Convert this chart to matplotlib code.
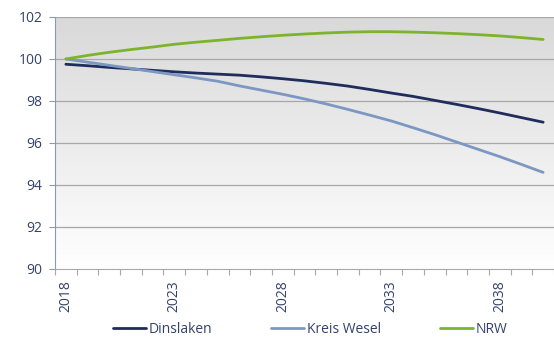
import numpy as np
import matplotlib
matplotlib.use("Agg")
import matplotlib.pyplot as plt

years = list(range(2018, 2041))
dinslaken = [99.75, 99.68, 99.60, 99.53, 99.46, 99.39, 99.33, 99.28, 99.23, 99.15,
             99.06, 98.96, 98.84, 98.71, 98.55, 98.38, 98.22, 98.03, 97.84, 97.64,
             97.43, 97.21, 96.99]
kreis_wesel = [100.0, 99.85, 99.70, 99.55, 99.40, 99.25, 99.10, 98.94, 98.72, 98.52,
               98.32, 98.10, 97.86, 97.60, 97.33, 97.05, 96.73, 96.40, 96.05, 95.70,
               95.35, 94.98, 94.60]
nrw = [100.0, 100.17, 100.32, 100.45, 100.57, 100.70, 100.80, 100.89, 100.98, 101.06,
       101.13, 101.19, 101.24, 101.28, 101.30, 101.30, 101.28, 101.25, 101.21, 101.16,
       101.10, 101.02, 100.93]
series_names = ["Dinslaken", "Kreis Wesel", "NRW"]
colors = ["#1f2d5c", "#7b97c2", "#7db42c"]
yticks = [90, 92, 94, 96, 98, 100, 102]

plt.rcParams['font.family'] = ['Open Sans', 'DejaVu Sans']
txt = "#34426a"

fig = plt.figure(figsize=(5.54, 3.40), dpi=100)
ax = fig.add_axes([55/554, 71/340, 499/554, 252/340])

x = np.arange(len(years))
ax.set_xlim(-0.5, len(years) - 0.5)
ax.set_ylim(90, 102)

# gradient background (grey at top to white at bottom)
grad = np.linspace(0, 1, 256).reshape(-1, 1)
ax.imshow(grad, extent=[-0.5, len(years) - 0.5, 90, 102], aspect='auto',
          cmap=matplotlib.colors.LinearSegmentedColormap.from_list("g", ["#d9d9d9", "#ffffff"]),
          origin='upper', zorder=0)

for yv in yticks[1:]:
    ax.axhline(yv, color="#a8a8a8", lw=0.9, zorder=1)

for vals, name, c in zip([dinslaken, kreis_wesel, nrw], series_names, colors):
    ax.plot(x, vals, color=c, lw=2.0, label=name, zorder=3, solid_capstyle='round')

for s in ["top", "right"]:
    ax.spines[s].set_visible(False)
ax.spines["left"].set_color("#8d99b3")
ax.spines["bottom"].set_color("#a8a8a8")

ax.set_yticks(yticks)
ax.set_yticklabels([str(v) for v in yticks], fontsize=10, color=txt)
ax.tick_params(axis='y', length=4, color="#8d99b3", pad=5)

# category boundaries as tick marks, labels every 5 years
ax.set_xticks(np.arange(-0.5, len(years)), minor=False)
ax.set_xticklabels([])
ax.tick_params(axis='x', which='major', length=4, color="#a8a8a8")
lab_idx = [i for i, yr in enumerate(years) if (yr - 2018) % 5 == 0]
ax.set_xticks(lab_idx, minor=True)
ax.set_xticklabels([str(years[i]) for i in lab_idx], minor=True, rotation=90,
                   fontsize=10, color=txt)
ax.tick_params(axis='x', which='minor', length=0, pad=8)

fig.legend(loc='lower center', bbox_to_anchor=(0.56, -0.028), ncol=3, frameon=False,
           fontsize=10, handlelength=2.4, handletextpad=0.2, columnspacing=4.2,
           labelcolor=txt)

fig.savefig("out.png", dpi=100)
